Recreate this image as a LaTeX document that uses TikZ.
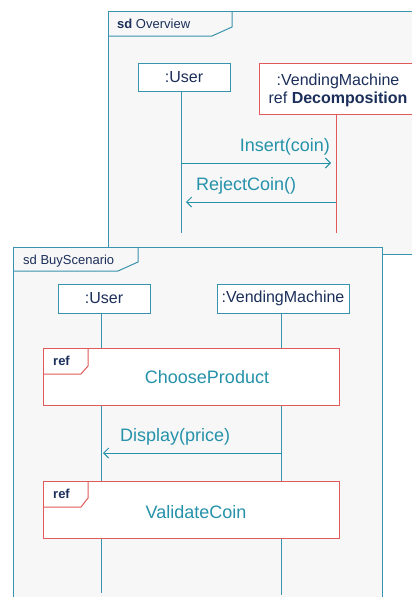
\documentclass[tikz,border=0pt]{standalone}
\usepackage{fontspec}
\setmainfont{Liberation Sans}
\usetikzlibrary{arrows.meta}
\definecolor{frameline}{HTML}{3A93AE}
\definecolor{framefill}{HTML}{F7F7F7}
\definecolor{refred}{HTML}{E05A5A}
\definecolor{navy}{HTML}{1B2F5A}
\definecolor{msgteal}{HTML}{2592AA}
\tikzset{
  frame/.style={draw=frameline, fill=framefill, line width=1pt},
  lifebox/.style={draw=frameline, fill=white, line width=1pt},
  refbox/.style={draw=refred, fill=white, line width=1pt},
  lifeline/.style={draw=frameline, line width=1pt},
  msg/.style={draw=msgteal, line width=1pt, -{Straight Barb[length=5pt,width=10pt]}},
  lbl/.style={inner sep=0pt, text=navy, font=\fontsize{16}{18}\selectfont},
  msglbl/.style={inner sep=0pt, text=msgteal, font=\fontsize{18}{20}\selectfont},
  taglbl/.style={inner sep=0pt, text=navy, font=\fontsize{13}{15}\selectfont},
}
\begin{document}
\begin{tikzpicture}[x=1pt, y=-1pt]
\useasboundingbox (0,0) rectangle (412,597);
\fill[white] (0,0) rectangle (412,597);

% ---- sd Overview ----
\path[frame] (108,11) rectangle (430,254);
\draw[frameline, line width=1pt] (108,36) -- (212,36) -- (232,27) -- (232,11);
\node[taglbl, anchor=west] (ovtag) at (117,24) {\textbf{sd} Overview};

\node[lifebox, minimum width=92pt, minimum height=28pt] (ovuser) at (184,77) {};
\node[lbl] at (ovuser.center) {:User};
\node[refbox, minimum width=156pt, minimum height=51pt] (ovvm) at (337,88.5) {};
\node[lbl] at (338,81) {:VendingMachine};
\node[lbl] at (338,99.5) {ref \textbf{Decomposition}};

\coordinate (ovuserend) at (181,233);
\coordinate (ovvmend) at (336,233);
\draw[lifeline] (181,91) -- (ovuserend);
\draw[draw=refred, line width=1pt] (336,114) -- (ovvmend);

\coordinate (insA) at (181,163);
\coordinate (insB) at (331,163);
\draw[msg] (insA) -- (insB);
\node[msglbl, anchor=east] at (330,147) {Insert(coin)};
\coordinate (rejA) at (336,202);
\coordinate (rejB) at (186,202);
\draw[msg] (rejA) -- (rejB);
\node[msglbl, anchor=west] at (196,186) {RejectCoin()};

% ---- sd BuyScenario ----
\path[frame] (13,247) rectangle (382,610);
\draw[frameline, line width=1pt] (13,271) -- (118,271) -- (138,262) -- (138,247);
\node[taglbl, anchor=west] (bstag) at (23,261) {sd BuyScenario};

\node[lifebox, minimum width=92pt, minimum height=29pt] (bsuser) at (104,298.5) {};
\node[lbl] at (bsuser.center) {:User};
\node[lifebox, minimum width=132pt, minimum height=29pt] (bsvm) at (283,298.5) {};
\node[lbl] at (bsvm.center) {:VendingMachine};

\coordinate (bsuserend) at (101,593);
\coordinate (bsvmend) at (281,595);
\draw[lifeline] (101,313) -- (bsuserend);
\draw[lifeline] (281,313) -- (bsvmend);

% ref ChooseProduct
\node[refbox, minimum width=296pt, minimum height=57pt] (choose) at (191,376.5) {};
\draw[refred, line width=1pt] (43,374) -- (81,374) -- (88,366) -- (88,348);
\node[taglbl, anchor=west] at (53,361) {\textbf{ref}};
\node[msglbl] at (207,377) {ChooseProduct};

% Display(price)
\coordinate (dispA) at (281,453);
\coordinate (dispB) at (103,453);
\draw[msg] (dispA) -- (dispB);
\node[msglbl, anchor=west] at (120,437) {Display(price)};

% ref ValidateCoin
\node[refbox, minimum width=296pt, minimum height=57pt] (validate) at (191,509.5) {};
\draw[refred, line width=1pt] (43,507) -- (81,507) -- (88,498) -- (88,481);
\node[taglbl, anchor=west] at (53,494) {\textbf{ref}};
\node[msglbl] at (196,512) {ValidateCoin};
\end{tikzpicture}
\end{document}
